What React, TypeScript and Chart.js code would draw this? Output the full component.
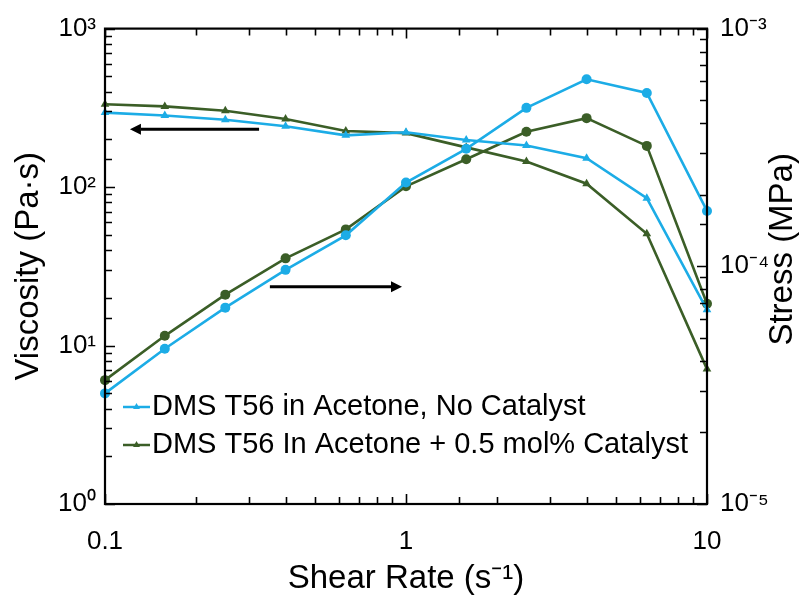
import React, { useEffect, useRef } from 'react';
import { Chart, registerables } from 'chart.js';

Chart.register(...registerables);

const FONT = '"Liberation Sans", Arial, sans-serif';

const shearRate = [0.1, 0.158, 0.251, 0.398, 0.631, 1, 1.585, 2.512, 3.981, 6.31, 10];
const viscosityNoCatalyst = [295, 283, 266, 242, 212, 222, 198, 183, 152, 85, 16.8];
const viscosityCatalyst = [333, 323, 303, 269, 226, 219, 178, 145, 105, 50.7, 7.1];
const stressNoCatalyst = [2.92e-5, 4.5e-5, 6.7e-5, 9.66e-5, 1.35e-4, 2.25e-4, 3.12e-4, 4.64e-4, 6.12e-4, 5.36e-4, 1.71e-4];
const stressCatalyst = [3.32e-5, 5.1e-5, 7.6e-5, 1.08e-4, 1.43e-4, 2.17e-4, 2.82e-4, 3.68e-4, 4.2e-4, 3.21e-4, 6.96e-5];

const seriesLabels = ['DMS T56 in Acetone, No Catalyst', 'DMS T56 In Acetone + 0.5 mol% Catalyst'];
const seriesColors = ['#1CACE6', '#3B5E27'];

const xTickValues = [0.1, 1, 10];
const xTickLabels = ['0.1', '1', '10'];
const viscosityTickValues = [1, 10, 100, 1000];
const viscosityTickLabels = ['10⁰', '10¹', '10²', '10³'];
const stressTickValues = [1e-5, 1e-4, 1e-3];
const stressTickLabels = ['10⁻⁵', '10⁻⁴', '10⁻³'];

const xTitle = 'Shear Rate (s⁻¹)';
const viscosityTitle = 'Viscosity (Pa·s)';
const stressTitle = 'Stress (MPa)';

// arrows in data units: [shear rate, value]
const viscosityArrowFrom = [0.325, 232];
const viscosityArrowTo = [0.121, 232];
const stressArrowFrom = [0.353, 8.2e-5];
const stressArrowTo = [0.97, 8.2e-5];

const labelFor = (values: number[], labels: string[]) => (v: number) => {
  const i = values.findIndex((t) => Math.abs(Math.log10(t) - Math.log10(v)) < 1e-6);
  return i >= 0 ? labels[i] : '';
};

const isMajor = (v: number) => Math.abs(Math.log10(v) - Math.round(Math.log10(v))) < 1e-6;

const pairs = (xs: number[], ys: number[]) => xs.map((x, i) => ({ x, y: ys[i] }));

function drawArrow(ctx: CanvasRenderingContext2D, x1: number, y1: number, x2: number, y2: number) {
  const dir = Math.sign(x2 - x1);
  const head = 11;
  ctx.save();
  ctx.strokeStyle = '#000';
  ctx.fillStyle = '#000';
  ctx.lineWidth = 3;
  ctx.beginPath();
  ctx.moveTo(x1, y1);
  ctx.lineTo(x2 - dir * head, y2);
  ctx.stroke();
  ctx.beginPath();
  ctx.moveTo(x2, y2);
  ctx.lineTo(x2 - dir * head, y2 - 5.5);
  ctx.lineTo(x2 - dir * head, y2 + 5.5);
  ctx.closePath();
  ctx.fill();
  ctx.restore();
}

const decorPlugin = {
  id: 'decor',
  afterDatasetsDraw(chart: any) {
    const { ctx, chartArea: a, scales } = chart;
    const { x, y, y1 } = scales;
    ctx.save();
    // ticks
    ctx.strokeStyle = '#000';
    ctx.lineWidth = 1.6;
    ctx.beginPath();
    x.ticks.forEach((t: any) => {
      const px = Math.round(x.getPixelForValue(t.value)) + 0.5;
      const len = isMajor(t.value) ? 10 : 7;
      ctx.moveTo(px, a.bottom);
      ctx.lineTo(px, a.bottom - len);
      ctx.moveTo(px, a.top);
      ctx.lineTo(px, a.top + len);
    });
    y.ticks.forEach((t: any) => {
      const py = Math.round(y.getPixelForValue(t.value)) + 0.5;
      const len = isMajor(t.value) ? 10 : 7;
      ctx.moveTo(a.left, py);
      ctx.lineTo(a.left + len, py);
    });
    y1.ticks.forEach((t: any) => {
      const py = Math.round(y1.getPixelForValue(t.value)) + 0.5;
      const len = isMajor(t.value) ? 10 : 7;
      ctx.moveTo(a.right, py);
      ctx.lineTo(a.right - len, py);
    });
    ctx.stroke();
    // frame
    ctx.lineWidth = 2.2;
    ctx.strokeRect(a.left, a.top, a.right - a.left, a.bottom - a.top);

    // arrows
    drawArrow(
      ctx,
      x.getPixelForValue(viscosityArrowFrom[0]), y.getPixelForValue(viscosityArrowFrom[1]),
      x.getPixelForValue(viscosityArrowTo[0]), y.getPixelForValue(viscosityArrowTo[1])
    );
    drawArrow(
      ctx,
      x.getPixelForValue(stressArrowFrom[0]), y1.getPixelForValue(stressArrowFrom[1]),
      x.getPixelForValue(stressArrowTo[0]), y1.getPixelForValue(stressArrowTo[1])
    );

    // legend
    ctx.font = `29px ${FONT}`;
    ctx.textBaseline = 'middle';
    ctx.textAlign = 'left';
    seriesLabels.forEach((label, i) => {
      const ly = a.bottom - 97 + i * 38;
      const lx = a.left + 18;
      ctx.strokeStyle = seriesColors[i];
      ctx.fillStyle = seriesColors[i];
      ctx.lineWidth = 2.5;
      ctx.beginPath();
      ctx.moveTo(lx, ly);
      ctx.lineTo(lx + 27, ly);
      ctx.stroke();
      const cx = lx + 13.5;
      const r = 4;
      ctx.beginPath();
      ctx.moveTo(cx, ly - r);
      ctx.lineTo(cx + r * 0.866, ly + r * 0.5);
      ctx.lineTo(cx - r * 0.866, ly + r * 0.5);
      ctx.closePath();
      ctx.fill();
      ctx.fillStyle = '#000';
      ctx.fillText(label, lx + 29, ly);
    });

    // right axis title (reads bottom-to-top)
    ctx.save();
    ctx.translate(chart.width - 26, (a.top + a.bottom) / 2 - 17);
    ctx.rotate(-Math.PI / 2);
    ctx.textAlign = 'center';
    ctx.textBaseline = 'middle';
    ctx.font = `33px ${FONT}`;
    ctx.fillStyle = '#000';
    ctx.fillText(stressTitle, 0, 0);
    ctx.restore();

    ctx.restore();
  },
};

export default function App() {
  const canvasRef = useRef<HTMLCanvasElement | null>(null);

  useEffect(() => {
    const canvas = canvasRef.current;
    if (!canvas) return;
    const line = (label: string, ys: number[], color: string, axis: string, style: string) => ({
      label,
      data: pairs(shearRate, ys),
      yAxisID: axis,
      borderColor: color,
      backgroundColor: color,
      borderWidth: 2.6,
      pointStyle: style,
      pointRadius: style === 'triangle' ? 5 : 5,
      pointBorderWidth: 0,
      pointBackgroundColor: color,
      tension: 0,
      clip: false,
    });

    const chart = new Chart(canvas, {
      type: 'line',
      data: {
        datasets: [
          line(seriesLabels[0], viscosityNoCatalyst, seriesColors[0], 'y', 'triangle'),
          line(seriesLabels[0] + ' (stress)', stressNoCatalyst, seriesColors[0], 'y1', 'circle'),
          line(seriesLabels[1], viscosityCatalyst, seriesColors[1], 'y', 'triangle'),
          line(seriesLabels[1] + ' (stress)', stressCatalyst, seriesColors[1], 'y1', 'circle'),
        ] as any,
      },
      options: {
        responsive: false,
        animation: false,
        devicePixelRatio: 1,
        layout: { padding: { top: 22, left: 0, right: 0, bottom: 0 } },
        plugins: { legend: { display: false }, tooltip: { enabled: false } },
        scales: {
          x: {
            type: 'logarithmic',
            position: 'bottom',
            min: 0.1,
            max: 10,
            grid: { display: false, drawTicks: false },
            border: { display: false },
            ticks: {
              autoSkip: false,
              maxRotation: 0,
              padding: 22,
              color: '#000',
              font: { family: FONT, size: 26 },
              callback: (v: any) => labelFor(xTickValues, xTickLabels)(Number(v)),
            },
            title: {
              display: true,
              text: xTitle,
              color: '#000',
              font: { family: FONT, size: 33 },
              padding: { top: 0, bottom: 0 },
            },
            afterFit: (s: any) => { s.height = 95; },
          },
          y: {
            type: 'logarithmic',
            position: 'left',
            min: 1,
            max: 1000,
            grid: { display: false, drawTicks: false },
            border: { display: false },
            ticks: {
              autoSkip: false,
              padding: 9,
              color: '#000',
              font: { family: FONT, size: 26 },
              callback: (v: any) => labelFor(viscosityTickValues, viscosityTickLabels)(Number(v)),
            },
            title: {
              display: true,
              text: viscosityTitle,
              color: '#000',
              font: { family: FONT, size: 33 },
              padding: { top: 9, bottom: 0 },
            },
            afterFit: (s: any) => { s.width = 105; },
          },
          y1: {
            type: 'logarithmic',
            position: 'right',
            min: 1e-5,
            max: 1e-3,
            grid: { display: false, drawTicks: false },
            border: { display: false },
            ticks: {
              autoSkip: false,
              padding: 13,
              color: '#000',
              font: { family: FONT, size: 26 },
              callback: (v: any) => labelFor(stressTickValues, stressTickLabels)(Number(v)),
            },
            title: { display: false },
            afterFit: (s: any) => { s.width = 102; },
          },
        },
      } as any,
      plugins: [decorPlugin],
    });
    return () => chart.destroy();
  }, []);

  return (
    <div style={{ position: 'fixed', left: 0, top: 0, width: 809, height: 599, background: '#fff' }}>
      <canvas ref={canvasRef} width={809} height={599} style={{ display: 'block' }} />
    </div>
  );
}
